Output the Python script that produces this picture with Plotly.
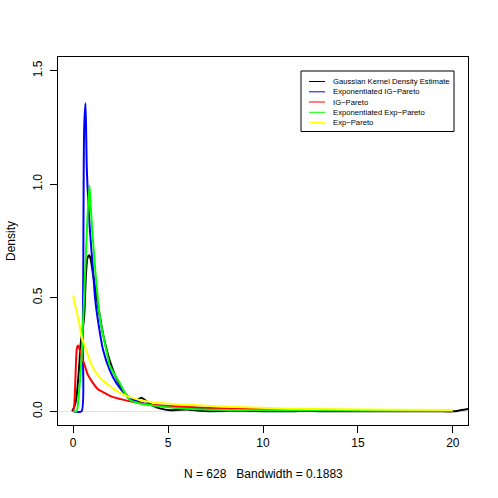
import plotly.graph_objects as go

# ---------------- data ----------------
kde_x = [-0.05, 0.1, 0.2, 0.3, 0.4, 0.5, 0.58, 0.67, 0.75, 0.84, 0.92, 1.0, 1.2, 1.4, 1.6, 1.9,
         2.2, 2.5, 2.8, 3.08, 3.35, 3.6, 3.85, 4.2, 4.6, 5.1, 5.6, 6.0, 6.5, 7.2, 8.0, 9.0,
         10.0, 11.0, 12.0, 13.0, 15.0, 17.0, 19.0, 20.0, 20.3, 20.8, 21.2]
kde_y = [0.0, 0.03, 0.08, 0.18, 0.30, 0.36, 0.42, 0.60, 0.675, 0.687, 0.67, 0.63, 0.52, 0.42,
         0.33, 0.23, 0.16, 0.11, 0.07, 0.045, 0.05, 0.06, 0.045, 0.025, 0.012, 0.005, 0.007,
         0.008, 0.004, 0.001, 0.002, 0.003, 0.001, 0.0, 0.002, 0.001, 0.001, 0.001, 0.001,
         0.0, 0.003, 0.01, 0.015]

eig_x = [0.0, 0.44, 0.50, 0.53, 0.55, 0.58, 0.65, 0.72, 0.88, 1.04, 1.16, 1.30, 1.57, 1.93,
         2.27, 2.7, 3.15, 4.0, 5.0, 6.0, 8.0, 10.0, 12.0, 15.0, 20.0]
eig_y = [0.0, 0.0, 0.30, 0.60, 1.0, 1.25, 1.356, 1.064, 0.80, 0.625, 0.493, 0.404, 0.272,
         0.18, 0.125, 0.08, 0.052, 0.03, 0.02, 0.014, 0.009, 0.006, 0.005, 0.004, 0.003]

ig_x = [0.0, 0.05, 0.1, 0.15, 0.2, 0.26, 0.35, 0.45, 0.62, 0.77, 1.0, 1.32, 1.5, 2.0, 2.5,
        3.0, 4.0, 4.6, 6.0, 7.2, 9.0, 11.4, 14.0, 17.0, 20.0]
ig_y = [0.0, 0.02, 0.10, 0.22, 0.28, 0.29, 0.27, 0.24, 0.199, 0.162, 0.13, 0.096, 0.088,
        0.066, 0.054, 0.044, 0.03, 0.026, 0.019, 0.015, 0.011, 0.008, 0.006, 0.004, 0.003]

eep_x = [0.0, 0.18, 0.3, 0.45, 0.51, 0.55, 0.62, 0.70, 0.78, 0.86, 0.93, 1.0, 1.16, 1.30,
         1.45, 1.74, 1.93, 2.2, 2.45, 2.7, 2.99, 3.5, 4.57, 6.0, 7.2, 9.0, 11.4, 15.0, 20.0]
eep_y = [0.0, 0.0, 0.08, 0.25, 0.38, 0.45, 0.60, 0.75, 0.90, 0.993, 0.90, 0.80, 0.625, 0.493,
         0.39, 0.272, 0.20, 0.16, 0.125, 0.085, 0.05, 0.035, 0.022, 0.011, 0.0075, 0.006,
         0.005, 0.004, 0.003]

ep_x = [0.0, 0.1, 0.28, 0.44, 0.6, 0.77, 0.97, 1.2, 1.5, 1.83, 2.2, 2.88, 3.5, 4.13, 4.57,
        5.5, 7.2, 9.0, 11.4, 14.0, 17.0, 20.0]
ep_y = [0.51, 0.47, 0.404, 0.331, 0.29, 0.25, 0.205, 0.17, 0.14, 0.118, 0.095, 0.066, 0.05,
        0.04, 0.038, 0.031, 0.024, 0.018, 0.012, 0.009, 0.007, 0.006]

series_names = ["Gaussian Kernel Density Estimate", "Exponentiated IG\u2212Pareto", "IG\u2212Pareto",
                "Exponentiated Exp\u2212Pareto", "Exp\u2212Pareto"]
series_colors = ["#000000", "#0000FF", "#FF0000", "#00FF00", "#FFFF00"]
x_ticks = [0, 5, 10, 15, 20]
y_ticks = [0.0, 0.5, 1.0, 1.5]
y_tick_labels = ["0.0", "0.5", "1.0", "1.5"]
x_title = "N = 628   Bandwidth = 0.1883"
y_title = "Density"

# ---------------- figure ----------------
W, H = 498, 498
# plot region in window pixels
L, R, T, B = 58, 468, 57, 425
FONT = "Liberation Sans, Arial, Helvetica, sans-serif"

def px(xp):
    return (xp - L) / (R - L)

def py(yp):
    return (B - yp) / (B - T)

fig = go.Figure()
xs = [kde_x, eig_x, ig_x, eep_x, ep_x]
ys = [kde_y, eig_y, ig_y, eep_y, ep_y]
for xv, yv, nm, col in zip(xs, ys, series_names, series_colors):
    fig.add_trace(go.Scatter(x=xv, y=yv, mode="lines", name=nm,
                             line=dict(color=col, width=2, shape="spline", smoothing=0.6),
                             showlegend=False, hoverinfo="skip"))

axis_common = dict(showline=True, linecolor="black", linewidth=1, mirror=True,
                   ticks="outside", ticklen=7, tickcolor="black", tickwidth=1,
                   showgrid=False, tickfont=dict(family=FONT, size=12, color="black"))

fig.update_layout(
    width=W, height=H,
    margin=dict(l=L, r=W - R, t=T, b=H - B, pad=0),
    paper_bgcolor="white", plot_bgcolor="white",
    xaxis=dict(range=[-0.8, 20.8], tickvals=x_ticks, ticktext=[str(v) for v in x_ticks],
               zeroline=False, **axis_common),
    yaxis=dict(range=[-0.06, 1.56], tickvals=y_ticks, ticktext=y_tick_labels, tickangle=-90,
               ticklabelstandoff=3,
               zeroline=True, zerolinecolor="#e3e3e3", zerolinewidth=1, **axis_common),
    showlegend=False,
)

# axis titles
fig.add_annotation(x=px((L + R) / 2), y=py(474), xref="paper", yref="paper", text=x_title,
                   xanchor="center", yanchor="middle",
                   showarrow=False, font=dict(family=FONT, size=12, color="black"))
fig.add_annotation(x=px(11), y=py((T + B) / 2), xref="paper", yref="paper", text=y_title,
                   xanchor="center", yanchor="middle",
                   textangle=-90, showarrow=False, font=dict(family=FONT, size=12, color="black"))

# legend box
lx0, lx1, ly0, ly1 = 301, 454, 71, 131.5
fig.add_shape(type="rect", xref="paper", yref="paper", x0=px(lx0), x1=px(lx1), y0=py(ly1), y1=py(ly0),
              line=dict(color="black", width=1), fillcolor="white", layer="above")
row_y = [81.5, 91.8, 102.0, 112.3, 122.5]
for nm, col, ry in zip(series_names, series_colors, row_y):
    fig.add_shape(type="line", xref="paper", yref="paper", x0=px(309), x1=px(325), y0=py(ry), y1=py(ry),
                  line=dict(color=col, width=1), layer="above")
    fig.add_annotation(x=px(331), y=py(ry), xref="paper", yref="paper", text=nm, xanchor="left",
                       yanchor="middle", showarrow=False,
                       font=dict(family=FONT, size=7.7, color="black"))

fig.write_html("out.html", config={"displayModeBar": False},
               post_script="document.body.style.margin='0px';")
